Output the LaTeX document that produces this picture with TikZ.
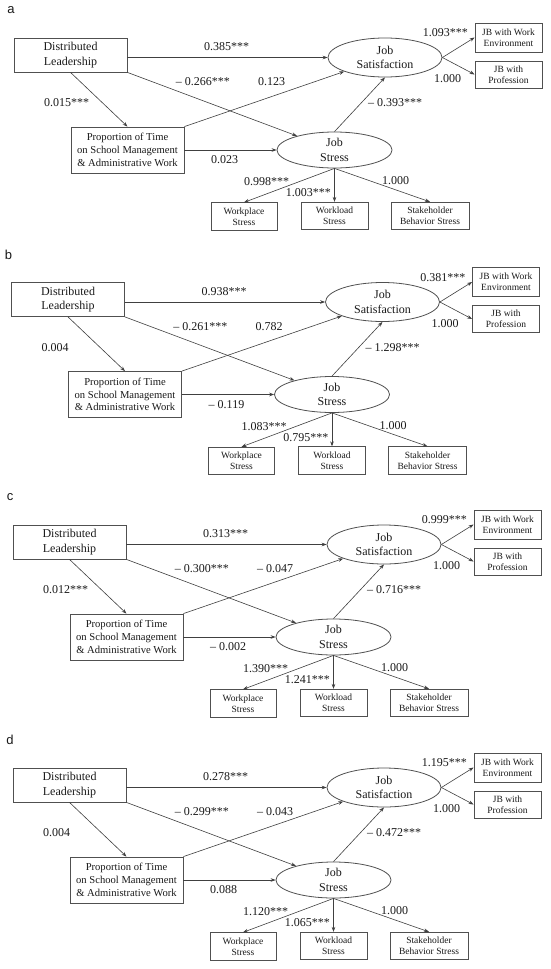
\documentclass[tikz,border=0pt]{standalone}
\usepackage{fontspec}
\setmainfont{Liberation Serif}
\newfontfamily\letterfont{Liberation Sans}
\usetikzlibrary{shapes.geometric,arrows.meta}
\definecolor{boxgray}{HTML}{505050}
\definecolor{linegray}{HTML}{404040}
\definecolor{txt}{HTML}{1A1A1A}
\tikzset{
 bigbox/.style={draw=boxgray, line width=0.8pt, minimum width=113pt, minimum height=34pt, inner sep=0pt, align=center, text=txt, font=\fontsize{12}{14.5}\selectfont},
 propbox/.style={bigbox, minimum height=46pt, font=\fontsize{10.6}{12.8}\selectfont},
 smallbox/.style={draw=boxgray, line width=0.8pt, minimum height=27.5pt, inner sep=0pt, align=center, text=txt, font=\fontsize{9.5}{11.3}\selectfont},
 latent/.style={ellipse, draw=boxgray, line width=0.8pt, minimum width=114pt, minimum height=38pt, inner sep=0pt, align=center, text=txt, font=\fontsize{12}{14.5}\selectfont},
 arr/.style={draw=linegray, line width=0.6pt, -{Stealth[length=5pt,width=3.6pt]}},
 lab/.style={inner sep=0pt, text=txt, font=\fontsize{12}{14}\selectfont},
 panelletter/.style={inner sep=0pt, text=txt, font=\letterfont\fontsize{13}{15}\selectfont},
}
\newcommand\drawpanel[4]{%
\begin{scope}[shift={(#3,#4)}]
\node[panelletter] (#1let) at (11,10) {#2};
\node[bigbox] (#1DL) at (70.5,55) {Distributed\\Leadership};
\node[propbox] (#1PT) at (127.5,150) {Proportion of Time\\on School Management\\\& Administrative Work};
\node[latent, minimum height=39pt] (#1JS) at (385,57.5) {Job\\Satisfaction};
\node[latent, minimum width=115pt, minimum height=36pt] (#1ST) at (334.5,150) {Job\\Stress};
\node[smallbox, minimum width=67pt, minimum height=29pt] (#1JW) at (508.5,37.5) {JB with Work\\Environment};
\node[smallbox, minimum width=67pt, minimum height=27pt] (#1JP) at (508.5,74.5) {JB with\\Profession};
\node[smallbox, minimum width=66pt] (#1WP) at (244,216.5) {Workplace\\Stress};
\node[smallbox, minimum width=67pt] (#1WL) at (334.5,216) {Workload\\Stress};
\node[smallbox, minimum width=78pt] (#1SB) at (430,216) {Stakeholder\\Behavior Stress};
\draw[arr] (#1DL.east |- #1JS.center) -- (#1JS);
\draw[arr] (#1DL.south east) -- (#1ST);
\draw[arr] (#1DL.south) -- (#1PT.north);
\draw[arr] (#1PT.north east) -- (#1JS);
\draw[arr] (#1PT.east) -- (#1ST.west);
\draw[arr] (#1ST.north) -- (#1JS.south);
\draw[arr] (#1JS.east) -- (#1JW.west);
\draw[arr] (#1JS.east) -- (#1JP.west);
\draw[arr] (#1ST.south) -- (#1WP.north);
\draw[arr] (#1ST.south) -- (#1WL.north);
\draw[arr] (#1ST.south) -- (#1SB.north);
\node[lab, anchor=west] (#1la) at (204,47) {\La};
\node[lab, anchor=east] (#1lb) at (230,82) {\Lb};
\node[lab, anchor=west] (#1lc) at (258,82) {\Lc};
\node[lab, anchor=west] (#1ld) at (44,103) {\Ld};
\node[lab, anchor=west] (#1le) at (211,160) {\Le};
\node[lab, anchor=west] (#1lf) at (244,182) {\Lf};
\node[lab, anchor=east] (#1lg) at (331,193) {\Lg};
\node[lab, anchor=west] (#1lh) at (382,181) {\Lh};
\node[lab, anchor=west] (#1li) at (368,103) {\Li};
\node[lab, anchor=east] (#1lj) at (468,33) {\Lj};
\node[lab, anchor=west] (#1lk) at (434,79) {\Lk};
\end{scope}}
\begin{document}
\begin{tikzpicture}[x=1pt,y=-1pt]
\fill[white] (0,0) rectangle (550,969);
\useasboundingbox (0,0) rectangle (550,969);
% panel a
\def\La{0.385***}\def\Lb{– 0.266***}\def\Lc{0.123}\def\Ld{0.015***}\def\Le{0.023}
\def\Lf{0.998***}\def\Lg{1.003***}\def\Lh{1.000}\def\Li{– 0.393***}\def\Lj{1.093***}\def\Lk{1.000}
\drawpanel{a}{a}{0}{0}
% panel b
\def\La{0.938***}\def\Lb{– 0.261***}\def\Lc{0.782}\def\Ld{0.004}\def\Le{– 0.119}
\def\Lf{1.083***}\def\Lg{0.795***}\def\Lh{1.000}\def\Li{– 1.298***}\def\Lj{0.381***}\def\Lk{1.000}
\drawpanel{b}{b}{-2.5}{244.5}
% panel c
\def\La{0.313***}\def\Lb{– 0.300***}\def\Lc{– 0.047}\def\Ld{0.012***}\def\Le{– 0.002}
\def\Lf{1.390***}\def\Lg{1.241***}\def\Lh{1.000}\def\Li{– 0.716***}\def\Lj{0.999***}\def\Lk{1.000}
\drawpanel{c}{c}{-1}{487}
% panel d
\def\La{0.278***}\def\Lb{– 0.299***}\def\Lc{– 0.043}\def\Ld{0.004}\def\Le{0.088}
\def\Lf{1.120***}\def\Lg{1.065***}\def\Lh{1.000}\def\Li{– 0.472***}\def\Lj{1.195***}\def\Lk{1.000}
\drawpanel{d}{d}{-1}{730}
\end{tikzpicture}
\end{document}
